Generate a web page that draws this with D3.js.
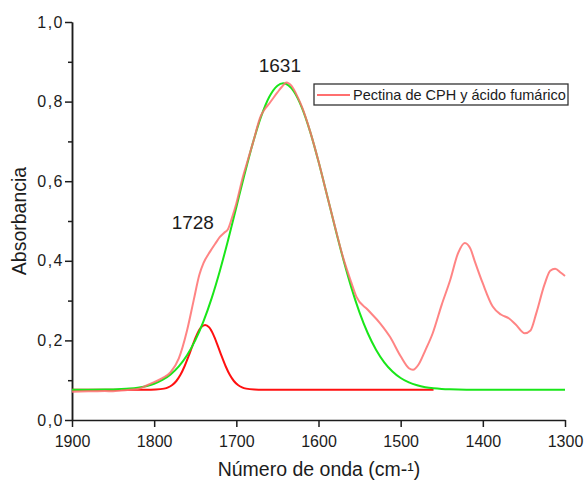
<!DOCTYPE html>
<html>
<head>
<meta charset="utf-8">
<script src="https://cdn.jsdelivr.net/npm/d3@7"></script>
<style>
    body { margin: 0; background: #fff; }
    text { font-family: "Liberation Sans", Arial, sans-serif; fill: #1c1c1c; }
</style>
</head>
<body>
<svg id="chart" width="586" height="481"></svg>
<script>
(function() {
    'use strict';

    // measured spectrum (wavenumber, absorbance)
    var specWn  = [1900, 1880, 1860, 1850, 1840, 1830, 1820, 1810, 1800, 1790, 1780, 1770, 1760, 1752,
                   1745, 1740, 1732, 1725, 1720, 1715, 1710, 1705, 1700, 1692, 1685, 1680, 1670, 1665,
                   1660, 1650, 1645, 1639, 1633, 1625, 1620, 1610, 1600, 1590, 1580, 1570, 1560, 1554,
                   1540, 1525, 1513, 1500, 1490, 1485, 1478, 1470, 1461, 1450, 1440, 1430, 1422, 1415,
                   1410, 1400, 1388, 1378, 1368, 1360, 1349, 1342, 1335, 1325, 1318, 1312, 1305, 1300];
    var specAbs = [0.071, 0.072, 0.073, 0.072, 0.074, 0.076, 0.078, 0.086, 0.095, 0.105, 0.120, 0.155, 0.225, 0.300,
                   0.365, 0.394, 0.423, 0.445, 0.460, 0.470, 0.480, 0.510, 0.544, 0.611, 0.660, 0.695, 0.765, 0.782,
                   0.795, 0.823, 0.836, 0.848, 0.840, 0.810, 0.786, 0.724, 0.650, 0.568, 0.486, 0.408, 0.345, 0.310,
                   0.277, 0.243, 0.209, 0.160, 0.130, 0.126, 0.140, 0.175, 0.218, 0.290, 0.350, 0.420, 0.445, 0.430,
                   0.400, 0.343, 0.285, 0.265, 0.255, 0.240, 0.218, 0.225, 0.268, 0.340, 0.375, 0.380, 0.370, 0.362];

    // fitted band at 1631
    var bandAWn  = [1900, 1880, 1860, 1850, 1840, 1830, 1820, 1810, 1800, 1790, 1780, 1770, 1760, 1750,
                    1740, 1730, 1720, 1710, 1700, 1690, 1680, 1670, 1660, 1650, 1643, 1630, 1620, 1610,
                    1600, 1590, 1580, 1570, 1560, 1550, 1540, 1530, 1520, 1510, 1500, 1490, 1480, 1470,
                    1460, 1450, 1440, 1430, 1420, 1400, 1300];
    var bandAAbs = [0.076, 0.076, 0.0764, 0.0768, 0.0776, 0.0789, 0.0812, 0.0850, 0.0911, 0.1006, 0.1146, 0.1348, 0.1628, 0.2000,
                    0.2478, 0.3063, 0.3752, 0.4524, 0.5347, 0.6174, 0.6950, 0.7615, 0.8114, 0.8400, 0.846, 0.8255, 0.7837, 0.7233,
                    0.6494, 0.5680, 0.4850, 0.4053, 0.3327, 0.2699, 0.2179, 0.1766, 0.1450, 0.1219, 0.1055, 0.0944, 0.0871, 0.0825,
                    0.0797, 0.0780, 0.0771, 0.0766, 0.0763, 0.076, 0.076];

    // fitted band at 1728
    var bandBWn  = [1900, 1810, 1798, 1788, 1783, 1778, 1773, 1768, 1763, 1758, 1753, 1748, 1743, 1738,
                    1733, 1728, 1723, 1718, 1713, 1708, 1703, 1698, 1693, 1688, 1678, 1668, 1460];
    var bandBAbs = [0.076, 0.076, 0.0765, 0.0788, 0.082, 0.088, 0.098, 0.1135, 0.135, 0.161, 0.189, 0.2145, 0.2325, 0.239,
                    0.2325, 0.2145, 0.189, 0.161, 0.135, 0.1135, 0.098, 0.088, 0.082, 0.0788, 0.0765, 0.076, 0.076];

    var xMajor = [1900, 1800, 1700, 1600, 1500, 1400, 1300];
    var xMinor = [1850, 1750, 1650, 1550, 1450, 1350];
    var yMajor = [0, 0.2, 0.4, 0.6, 0.8, 1.0];
    var yMinor = [0.1, 0.3, 0.5, 0.7, 0.9];

    var peakLabels = ['1631', '1728'];
    var peakWn     = [1647, 1753];
    var peakAbs    = [0.874, 0.48];

    var legendText = 'Pectina de CPH y ácido fumárico';

    /******************************************************************
        scales
     ******************************************************************/
    var svg = d3.select('#chart');
    var x = d3.scaleLinear().domain([1900, 1300]).range([72, 565]);
    var y = d3.scaleLinear().domain([0, 1]).range([420, 22]);
    var fmt = function(d) { return d3.format('.1f')(d).replace('.', ','); };

    function pairs(xs, ys) {
        return xs.map(function(d, i) { return [d, ys[i]]; });
    }

    var line = d3.line()
        .x(function(d) { return x(d[0]); })
        .y(function(d) { return y(d[1]); })
        .curve(d3.curveMonotoneX);

    /******************************************************************
        axes
     ******************************************************************/
    var gx = svg.append('g').attr('transform', 'translate(0,420)');
    gx.call(d3.axisBottom(x).tickValues(xMinor).tickSize(4).tickSizeOuter(0).tickFormat(''));
    gx.call(d3.axisBottom(x).tickValues(xMajor).tickSize(7).tickSizeOuter(0).tickPadding(8.5).tickFormat(d3.format('d')));

    var gy = svg.append('g').attr('transform', 'translate(72,0)');
    gy.call(d3.axisLeft(y).tickValues(yMinor).tickSize(4).tickSizeOuter(0).tickFormat(''));
    var yTicks = gy.append('g');
    yTicks.call(d3.axisLeft(y).tickValues(yMajor).tickSize(7).tickSizeOuter(0).tickPadding(1).tickFormat(fmt));
    yTicks.selectAll('.tick text').style('letter-spacing', '1.5px');

    svg.selectAll('.domain, .tick line').attr('stroke', '#1c1c1c').attr('stroke-width', 1.5);
    svg.selectAll('.tick text').style('font-size', '16px').attr('fill', '#1c1c1c')
        .style('font-family', '"Liberation Sans", Arial, sans-serif');

    svg.append('text')
        .attr('x', 319).attr('y', 476)
        .attr('text-anchor', 'middle')
        .style('font-size', '19.5px')
        .text('Número de onda (cm-¹)');

    svg.append('text')
        .attr('transform', 'translate(26,221) rotate(-90)')
        .attr('text-anchor', 'middle')
        .style('font-size', '19.5px')
        .text('Absorbancia');

    /******************************************************************
        curves
     ******************************************************************/
    svg.append('path')
        .datum(pairs(bandBWn, bandBAbs))
        .attr('d', line)
        .attr('fill', 'none')
        .attr('stroke', '#ff1010')
        .attr('stroke-width', 2);

    svg.append('path')
        .datum(pairs(bandAWn, bandAAbs))
        .attr('d', line)
        .attr('fill', 'none')
        .attr('stroke', '#19e619')
        .attr('stroke-width', 2);

    svg.append('path')
        .datum(pairs(specWn, specAbs))
        .attr('d', line)
        .attr('fill', 'none')
        .attr('stroke', '#ff6f6f')
        .attr('stroke-opacity', 0.85)
        .attr('stroke-width', 2);

    svg.selectAll('.peak')
        .data(peakLabels)
        .enter().append('text')
            .attr('class', 'peak')
            .attr('x', function(d, i) { return x(peakWn[i]); })
            .attr('y', function(d, i) { return y(peakAbs[i]); })
            .attr('text-anchor', 'middle')
            .style('font-size', '19px')
            .text(function(d) { return d; });

    /******************************************************************
        legend
     ******************************************************************/
    var lg = svg.append('g').attr('transform', 'translate(314,84)');
    lg.append('rect')
        .attr('width', 254).attr('height', 21)
        .attr('fill', '#fff')
        .attr('stroke', '#333')
        .attr('stroke-width', 1.3);
    lg.append('line')
        .attr('x1', 3).attr('x2', 36)
        .attr('y1', 11).attr('y2', 11)
        .attr('stroke', '#ff6f6f')
        .attr('stroke-width', 2);
    lg.append('text')
        .attr('x', 39).attr('y', 16)
        .style('font-size', '14.5px')
        .text(legendText);
})();
</script>
</body>
</html>
